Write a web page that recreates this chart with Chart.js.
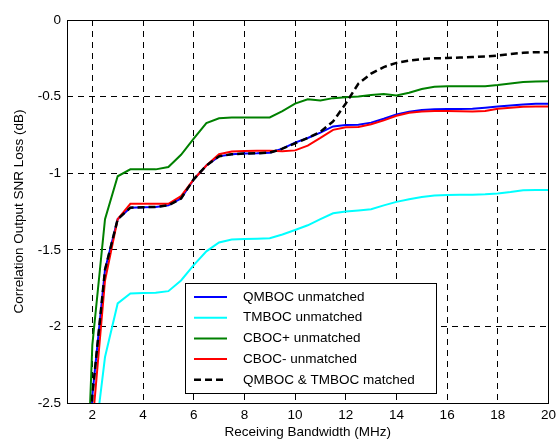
<!DOCTYPE html>
<html>
<head>
<meta charset="utf-8">
<script src="https://cdn.jsdelivr.net/npm/chart.js@4.4.0/dist/chart.umd.min.js"></script>
<style>
html, body { margin: 0; padding: 0; background: #fff; }
#wrap { width: 560px; height: 440px; }
</style>
</head>
<body>
<div id="wrap"><canvas id="chart" width="560" height="440"></canvas></div>
<script>
// Receiving bandwidth (MHz), 0.5 MHz steps
const bandwidth = [1.5, 2, 2.5, 3, 3.5, 4, 4.5, 5, 5.5, 6, 6.5, 7, 7.5, 8, 8.5, 9, 9.5, 10, 10.5, 11,
  11.5, 12, 12.5, 13, 13.5, 14, 14.5, 15, 15.5, 16, 16.5, 17, 17.5, 18, 18.5, 19, 19.5, 20];

// SNR loss (dB) per bandwidth
const qmbocUnmatched = [-4.5, -2.45, -1.63, -1.3, -1.225, -1.222, -1.22, -1.21, -1.165, -1.04, -0.95, -0.89, -0.876, -0.872, -0.87, -0.866, -0.84, -0.8, -0.77, -0.735,
  -0.695, -0.685, -0.684, -0.67, -0.645, -0.616, -0.598, -0.588, -0.582, -0.581, -0.581, -0.58, -0.572, -0.565, -0.558, -0.552, -0.547, -0.546];
const tmbocUnmatched = [-4.8, -2.88, -2.2, -1.85, -1.785, -1.782, -1.781, -1.77, -1.7, -1.6, -1.51, -1.452, -1.433, -1.43, -1.428, -1.425, -1.4, -1.371, -1.34, -1.3,
  -1.262, -1.25, -1.243, -1.235, -1.21, -1.187, -1.17, -1.155, -1.145, -1.142, -1.141, -1.14, -1.138, -1.132, -1.123, -1.112, -1.11, -1.11];
const cbocPlusUnmatched = [-4.3, -2.12, -1.3, -1.02, -0.975, -0.975, -0.975, -0.96, -0.88, -0.775, -0.673, -0.642, -0.637, -0.637, -0.637, -0.636, -0.595, -0.546, -0.518, -0.525,
  -0.51, -0.505, -0.5, -0.49, -0.483, -0.492, -0.475, -0.45, -0.435, -0.433, -0.433, -0.433, -0.433, -0.425, -0.415, -0.405, -0.402, -0.4];
const cbocMinusUnmatched = [-4.8, -2.65, -1.7, -1.3, -1.2, -1.2, -1.2, -1.2, -1.15, -1.04, -0.95, -0.876, -0.858, -0.855, -0.854, -0.854, -0.856, -0.851, -0.82, -0.77,
  -0.717, -0.7, -0.699, -0.68, -0.655, -0.625, -0.605, -0.598, -0.594, -0.594, -0.596, -0.597, -0.594, -0.58, -0.572, -0.566, -0.564, -0.564];
const matched = [-4.5, -2.45, -1.63, -1.3, -1.225, -1.222, -1.22, -1.21, -1.165, -1.04, -0.95, -0.89, -0.876, -0.872, -0.87, -0.866, -0.84, -0.805, -0.77, -0.73,
  -0.662, -0.545, -0.415, -0.35, -0.307, -0.28, -0.265, -0.255, -0.25, -0.248, -0.245, -0.242, -0.238, -0.232, -0.222, -0.214, -0.21, -0.21];

const xTicks = [2, 4, 6, 8, 10, 12, 14, 16, 18, 20];
const yTicks = [0, -0.5, -1, -1.5, -2, -2.5];

const FONT = '"Liberation Sans", Arial, sans-serif';

function pts(values) {
  return bandwidth.map((x, i) => ({ x: x, y: values[i] }));
}

// black frame around the plot area
const frame = {
  id: 'frame',
  afterDraw(chart) {
    const { ctx, chartArea: a } = chart;
    ctx.save();
    ctx.strokeStyle = '#000';
    ctx.lineWidth = 1;
    ctx.setLineDash([]);
    ctx.strokeRect(Math.round(a.left) + 0.5, Math.round(a.top) + 0.5,
      Math.round(a.right - a.left), Math.round(a.bottom - a.top));
    ctx.restore();
  }
};

// boxed legend inside the plot, drawn after the frame
const boxLegend = {
  id: 'boxLegend',
  afterDraw(chart) {
    const { ctx, chartArea: a } = chart;
    const x0 = Math.round(a.left + 117.6), y0 = Math.round(a.top + 263);
    const w = 251, h = 110;
    ctx.save();
    ctx.fillStyle = '#fff';
    ctx.fillRect(x0, y0, w, h);
    ctx.strokeStyle = '#000';
    ctx.lineWidth = 1;
    ctx.strokeRect(x0 + 0.5, y0 + 0.5, w, h);
    ctx.font = '13.5px ' + FONT;
    ctx.textBaseline = 'middle';
    chart.data.datasets.forEach((ds, i) => {
      const y = y0 + 14 + i * 20.7;
      ctx.strokeStyle = ds.borderColor;
      ctx.lineWidth = ds.borderWidth;
      ctx.setLineDash(ds.borderDash || []);
      ctx.beginPath();
      ctx.moveTo(x0 + 9, y);
      ctx.lineTo(x0 + 42, y);
      ctx.stroke();
      ctx.setLineDash([]);
      ctx.fillStyle = '#000';
      ctx.fillText(ds.label, x0 + 58, y);
    });
    ctx.restore();
  }
};

new Chart(document.getElementById('chart'), {
  type: 'line',
  data: {
    datasets: [
      { label: 'QMBOC unmatched', data: pts(qmbocUnmatched), borderColor: '#0000ff', borderWidth: 2, order: 5 },
      { label: 'TMBOC unmatched', data: pts(tmbocUnmatched), borderColor: '#00ffff', borderWidth: 2, order: 4 },
      { label: 'CBOC+ unmatched', data: pts(cbocPlusUnmatched), borderColor: '#008000', borderWidth: 2, order: 3 },
      { label: 'CBOC- unmatched', data: pts(cbocMinusUnmatched), borderColor: '#ff0000', borderWidth: 2, order: 2 },
      { label: 'QMBOC & TMBOC matched', data: pts(matched), borderColor: '#000000', borderWidth: 2.5, borderDash: [7, 4], order: 1 }
    ]
  },
  options: {
    responsive: false,
    animation: false,
    layout: { padding: { top: 20, right: 7, left: 0, bottom: 0 } },
    elements: {
      point: { radius: 0 },
      line: { tension: 0, fill: false }
    },
    plugins: {
      legend: { display: false },
      tooltip: { enabled: false }
    },
    scales: {
      x: {
        type: 'linear',
        min: 1,
        max: 20,
        afterBuildTicks(scale) { scale.ticks = xTicks.map(v => ({ value: v })); },
        afterFit(scale) { scale.height = 37; },
        grid: { color: '#000', lineWidth: 1, drawTicks: false },
        border: { display: false, dash: [6, 5] },
        ticks: { color: '#000', font: { family: FONT, size: 13.5 }, padding: 4, maxRotation: 0, callback: v => String(v) },
        title: { display: true, text: 'Receiving Bandwidth (MHz)', color: '#000', font: { family: FONT, size: 13.5 }, padding: 0 }
      },
      y: {
        type: 'linear',
        min: -2.5,
        max: 0,
        afterBuildTicks(scale) { scale.ticks = yTicks.map(v => ({ value: v })); },
        afterFit(scale) { scale.width = 67; },
        grid: { color: '#000', lineWidth: 1, drawTicks: false },
        border: { display: false, dash: [6, 5] },
        ticks: { color: '#000', font: { family: FONT, size: 13.5 }, padding: 6, callback: v => String(v) },
        title: { display: true, text: 'Correlation Output SNR Loss (dB)', color: '#000', font: { family: FONT, size: 13.5 }, padding: { top: 11, bottom: 0 } }
      }
    }
  },
  plugins: [frame, boxLegend]
});
</script>
</body>
</html>
